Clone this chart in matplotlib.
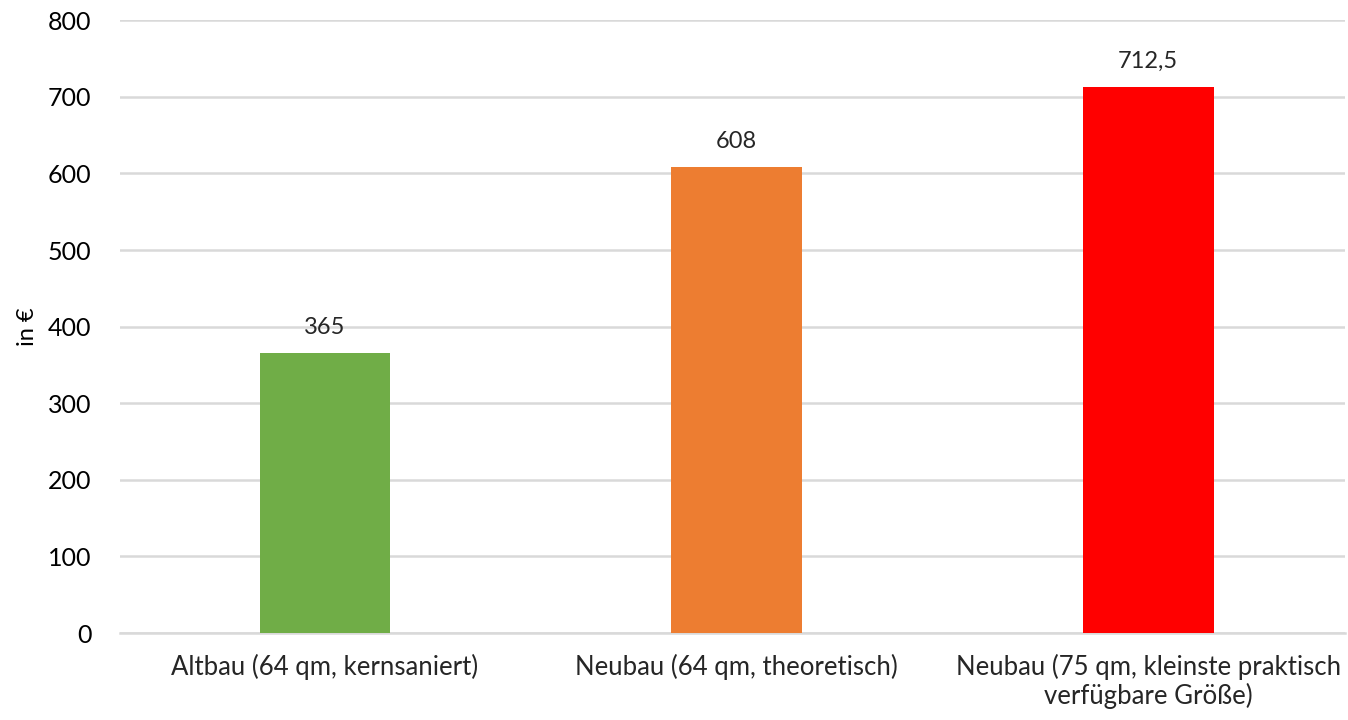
import matplotlib
matplotlib.use("Agg")
import matplotlib.pyplot as plt

categories = [
    "Altbau (64 qm, kernsaniert)",
    "Neubau (64 qm, theoretisch)",
    "Neubau (75 qm, kleinste praktisch\nverfügbare Größe)",
]
values = [365, 608, 712.5]
value_labels = ["365", "608", "712,5"]
colors = ["#70ad47", "#ed7d31", "#ff0000"]
y_ticks = [0, 100, 200, 300, 400, 500, 600, 700, 800]

plt.rcParams["font.family"] = ["Lato", "DejaVu Sans"]

fig = plt.figure(figsize=(13.48, 7.2), dpi=100)
ax = fig.add_axes([0.089, 0.1208, 0.909, 0.851])

x = list(range(len(categories)))
bars = ax.bar(x, values, width=0.318, color=colors, zorder=3)

for b, lbl in zip(bars, value_labels):
    ax.annotate(lbl, (b.get_x() + b.get_width() / 2, b.get_height()),
                xytext=(0, 11), textcoords="offset points",
                ha="center", va="bottom", fontsize=17, color="#262626")

ax.set_xlim(-0.498, 2.479)
ax.set_ylim(0, 800)
ax.set_yticks(y_ticks)
ax.set_yticklabels([str(t) for t in y_ticks], fontsize=18, color="#000000")
ax.set_xticks(x)
ax.set_xticklabels(categories, fontsize=18.5, color="#262626", linespacing=1.15)
ax.tick_params(axis="both", length=0)
ax.tick_params(axis="y", pad=20.5)
ax.tick_params(axis="x", pad=15)

ax.grid(axis="y", color="#d9d9d9", linewidth=1.8, zorder=0)
for s in ["top", "right", "left"]:
    ax.spines[s].set_visible(False)
ax.spines["bottom"].set_color("#d9d9d9")
ax.spines["bottom"].set_linewidth(1.8)

ax.set_ylabel("in €", fontsize=17, color="#000000")
ax.yaxis.set_label_coords(-0.067, 0.5)

fig.savefig("out.png", dpi=100)
